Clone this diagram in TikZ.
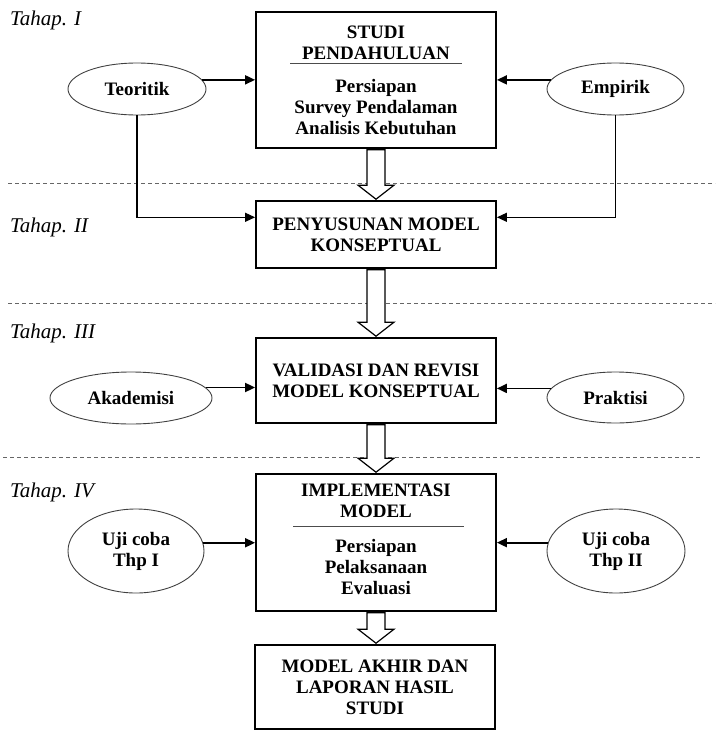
\documentclass[tikz,border=0pt]{standalone}
\usepackage{fontspec}
\setmainfont{Liberation Serif}
\usetikzlibrary{positioning,arrows.meta,shapes.geometric,calc}

\newcommand{\panahblok}[2]{%
  \draw[blok] ($(#1.south)+(-9,0.9)$) -- ($(#1.south |- #2.north)+(-9,-14.9)$)
    -- ($(#1.south |- #2.north)+(-18,-14.9)$) -- ($(#1.south |- #2.north)+(0,-0.9)$)
    -- ($(#1.south |- #2.north)+(18,-14.9)$) -- ($(#1.south |- #2.north)+(9,-14.9)$)
    -- ($(#1.south)+(9,0.9)$) -- cycle;}

\begin{document}
\begin{tikzpicture}[x=1pt,y=-1pt,
  kotak/.style={draw,line width=1.8pt,minimum width=240pt,inner sep=0pt,align=center,font=\fontsize{19}{21}\selectfont\bfseries},
  isi/.style={align=center,inner sep=0pt,font=\fontsize{19}{21}\selectfont\bfseries},
  elips/.style={draw=black!75,ellipse,line width=0.9pt,inner sep=0pt,align=center,font=\fontsize{19}{21}\selectfont\bfseries},
  panah/.style={line width=1.8pt,-{Triangle[length=10pt,width=9pt]}},
  siku/.style={line width=1.2pt,-{Triangle[length=10pt,width=9pt]}},
  blok/.style={line width=1.2pt,fill=white,line join=miter},
  pisah/.style={black!60,line width=1pt,dash pattern=on 4pt off 3pt},
  tahap/.style={anchor=base west,inner sep=0pt,font=\fontsize{21}{21}\selectfont\itshape}]

\useasboundingbox (0,0) rectangle (715,731);

% garis pemisah tahap
\draw[pisah] (8,183) -- (715,183);
\draw[pisah] (8,303) -- (715,303);
\draw[pisah] (3,457) -- (702,457);

\node[tahap] (tahap1) at (10,25) {Tahap. I};
\node[tahap] (tahap2) at (10,232) {Tahap. II};
\node[tahap] (tahap3) at (10,338) {Tahap. III};
\node[tahap] (tahap4) at (10,497) {Tahap. IV};

% kotak utama
\node[kotak,minimum height=136pt] (studi) at (376,80) {};
\node[isi] (studijudul) at (376,43) {STUDI\\PENDAHULUAN};
\draw[black!70,line width=1pt] (290,63) -- (462,63);
\node[isi] (studiisi) at (376,107.5) {Persiapan\\Survey Pendalaman\\Analisis Kebutuhan};

\node[kotak,minimum height=67pt] (penyusunan) at (376,234.5) {PENYUSUNAN MODEL\\KONSEPTUAL};
\node[kotak,minimum height=85pt] (validasi) at (376,380.5) {VALIDASI DAN REVISI\\MODEL KONSEPTUAL};

\node[kotak,minimum height=137pt] (implementasi) at (376,542.5) {};
\node[isi] (impjudul) at (376,501) {IMPLEMENTASI\\MODEL};
\draw[black!70,line width=1pt] (293,526) -- (464,526);
\node[isi] (impisi) at (376,567) {Persiapan\\Pelaksanaan\\Evaluasi};

\node[kotak,minimum height=84pt] (akhir) at (375,687) {MODEL AKHIR DAN\\LAPORAN HASIL\\STUDI};

% elips masukan
\node[elips,minimum width=138pt,minimum height=52pt] (teoritik) at (137,89) {Teoritik};
\node[elips,minimum width=137pt,minimum height=52pt] (empirik) at (615.5,89) {Empirik};
\node[elips,minimum width=162pt,minimum height=52pt] (akademisi) at (131,398) {Akademisi};
\node[elips,minimum width=137pt,minimum height=51pt] (praktisi) at (615.5,397.5) {Praktisi};
\node[elips,minimum width=136pt,minimum height=84pt] (ujicoba1) at (136,551) {Uji coba\\Thp I};
\node[elips,minimum width=138pt,minimum height=84pt] (ujicoba2) at (616,551) {Uji coba\\Thp II};

\draw[panah] (teoritik.8) -- (teoritik.8 -| studi.west);
\draw[panah] (empirik.172) -- (empirik.172 -| studi.east);
\draw[panah] (akademisi.8) -- (akademisi.8 -| validasi.west);
\draw[panah] (praktisi.172) -- (praktisi.172 -| validasi.east);
\draw[panah] (ujicoba1.7) -- (ujicoba1.7 -| implementasi.west);
\draw[panah] (ujicoba2.173) -- (ujicoba2.173 -| implementasi.east);

\coordinate (masukkiri) at ($(penyusunan.north west)!0.25!(penyusunan.south west)$);
\coordinate (masukkanan) at ($(penyusunan.north east)!0.25!(penyusunan.south east)$);
\draw[siku] (teoritik.south) |- (masukkiri);
\draw[siku] (empirik.south) |- (masukkanan);

% panah blok antar tahap
\panahblok{studi}{penyusunan}
\panahblok{penyusunan}{validasi}
\panahblok{validasi}{implementasi}
\panahblok{implementasi}{akhir}

\end{tikzpicture}
\end{document}
